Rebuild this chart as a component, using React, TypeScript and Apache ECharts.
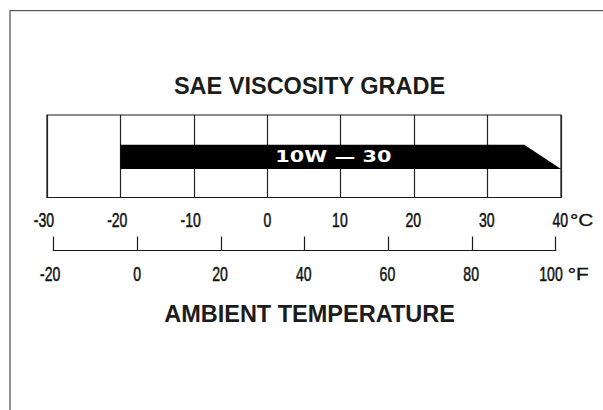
import React, { useEffect, useRef } from "react";
import * as echarts from "echarts";

// ---- data ----
const celsiusRange = [-30, 40];
const celsiusStep = 10;
const celsiusTicks = [-30, -20, -10, 0, 10, 20, 30, 40];
const fahrenheitRange = [-20, 100];
const fahrenheitStep = 20;
const fahrenheitTicks = [-20, 0, 20, 40, 60, 80, 100];

const grades = ["10W — 30"];
const gradeStartC = [-20];
const gradeTaperC = [35];
const gradeEndC = [40];
const gradeLabelC = [9];

const titleTop = "SAE VISCOSITY GRADE";
const titleBottom = "AMBIENT TEMPERATURE";
const unitC = "°C";
const unitF = "°F";

const BAR_TOP = 0.64;
const BAR_BOTTOM = 0.345;

const SANS = "'Liberation Sans', Arial, sans-serif";
const TICK_FONT = 19.5;
const TICK_SCALE = 0.72;

export default function App() {
  const ref = useRef<HTMLDivElement>(null);

  useEffect(() => {
    if (!ref.current) return;
    const chart = echarts.init(ref.current, null, { renderer: "svg" });

    const baseGraphic: any[] = [
      {
        type: "line",
        shape: { x1: 10, y1: 10.5, x2: 10, y2: 410 },
        style: { stroke: "#7a7a7a", lineWidth: 1.6 },
        silent: true,
      },
      {
        type: "line",
        shape: { x1: 10, y1: 10.7, x2: 603, y2: 10.7 },
        style: { stroke: "#333", lineWidth: 1 },
        silent: true,
      },
      {
        type: "text",
        x: 309.5,
        y: 85.5,
        style: {
          text: titleTop,
          fill: "#1c1c1c",
          font: `bold 23.5px ${SANS}`,
          align: "center",
          verticalAlign: "middle",
        },
      },
      {
        type: "text",
        x: 309.5,
        y: 314.4,
        style: {
          text: titleBottom,
          fill: "#1c1c1c",
          font: `bold 23.5px ${SANS}`,
          align: "center",
          verticalAlign: "middle",
        },
      },
    ];

    const option: any = {
      animation: false,
      backgroundColor: "#ffffff",
      grid: [
        {
          left: 47,
          top: 115,
          width: 514,
          height: 82.5,
          show: true,
          borderColor: "#1a1a1a",
          borderWidth: 1.2,
          backgroundColor: "transparent",
        },
        {
          left: 53.3,
          top: 249.5,
          width: 502.4,
          height: 1,
          show: false,
        },
      ],
      xAxis: [
        {
          type: "value",
          gridIndex: 0,
          min: celsiusRange[0],
          max: celsiusRange[1],
          interval: celsiusStep,
          axisLine: { show: true, lineStyle: { color: "#1a1a1a", width: 1.2 } },
          axisTick: { show: false },
          splitLine: { show: true, lineStyle: { color: "#222", width: 1.2 } },
          axisLabel: { show: false },
        },
        {
          type: "value",
          gridIndex: 1,
          min: fahrenheitRange[0],
          max: fahrenheitRange[1],
          interval: fahrenheitStep,
          axisLine: { show: true, lineStyle: { color: "#1a1a1a", width: 1.2 } },
          axisTick: {
            show: true,
            inside: true,
            length: 14,
            lineStyle: { color: "#1a1a1a", width: 1.2 },
          },
          splitLine: { show: false },
          axisLabel: { show: false },
        },
      ],
      yAxis: [
        { type: "value", gridIndex: 0, min: 0, max: 1, show: false },
        { type: "value", gridIndex: 1, min: 0, max: 1, show: false },
      ],
      graphic: baseGraphic,
      series: [
        {
          type: "custom",
          xAxisIndex: 0,
          yAxisIndex: 0,
          encode: { x: [0, 1, 2] },
          data: grades.map((g, i) => [
            gradeStartC[i],
            gradeTaperC[i],
            gradeEndC[i],
            gradeLabelC[i],
          ]),
          renderItem: (params: any, api: any) => {
            const x0 = api.value(0);
            const x1 = api.value(1);
            const x2 = api.value(2);
            const xl = api.value(3);
            const a = api.coord([x0, BAR_TOP]);
            const b = api.coord([x1, BAR_TOP]);
            const c = api.coord([x2, BAR_BOTTOM]);
            const d = api.coord([x0, BAR_BOTTOM]);
            const lp = api.coord([xl, (BAR_TOP + BAR_BOTTOM) / 2]);
            return {
              type: "group",
              children: [
                {
                  type: "polygon",
                  shape: { points: [a, b, c, d] },
                  style: { fill: "#000" },
                },
                {
                  type: "text",
                  x: lp[0],
                  y: lp[1],
                  scaleX: 1.3,
                  style: {
                    text: grades[params.dataIndex],
                    x: 0,
                    y: 0,
                    fill: "#fff",
                    font: `bold 16px 'DejaVu Sans', ${SANS}`,
                    align: "center",
                    verticalAlign: "middle",
                  },
                },
              ],
            };
          },
        },
      ],
    };

    chart.setOption(option);

    // tick labels drawn as condensed text at positions from the axes' scales
    const digitHalf = (v: number) => {
      const digits = String(Math.abs(v)).length;
      return Math.min((digits * 0.556 * TICK_FONT * TICK_SCALE) / 2, 7);
    };
    const makeLabel = (px: number, py: number, v: number) => ({
      type: "text",
      x: px + digitHalf(v),
      y: py,
      scaleX: TICK_SCALE,
      silent: true,
      style: {
        text: String(v),
        fill: "#111",
        stroke: "#111",
        lineWidth: 0.5,
        font: `${TICK_FONT}px ${SANS}`,
        align: "right",
        verticalAlign: "middle",
      },
    });

    const labels: any[] = [];
    const cBottom = chart.convertToPixel({ gridIndex: 0 } as any, [celsiusRange[0], 0]) as number[];
    celsiusTicks.forEach((v) => {
      const px = chart.convertToPixel({ xAxisIndex: 0 } as any, v) as number;
      labels.push(makeLabel(px, cBottom[1] + 23.5, v));
    });
    const fAxis = chart.convertToPixel({ gridIndex: 1 } as any, [fahrenheitRange[0], 0]) as number[];
    fahrenheitTicks.forEach((v) => {
      const px = chart.convertToPixel({ xAxisIndex: 1 } as any, v) as number;
      labels.push(makeLabel(px, fAxis[1] + 24.5, v));
    });

    const cEnd = chart.convertToPixel({ xAxisIndex: 0 } as any, celsiusRange[1]) as number;
    const fEnd = chart.convertToPixel({ xAxisIndex: 1 } as any, fahrenheitRange[1]) as number;
    labels.push({
      type: "text",
      x: cEnd + 9,
      y: cBottom[1] + 22.5,
      scaleX: 1.3,
      silent: true,
      style: {
        text: unitC,
        fill: "#111",
        stroke: "#111",
        lineWidth: 0.3,
        font: `16px ${SANS}`,
        align: "left",
        verticalAlign: "middle",
      },
    });
    labels.push({
      type: "text",
      x: fEnd + 12,
      y: fAxis[1] + 24,
      scaleX: 1.3,
      silent: true,
      style: {
        text: unitF,
        fill: "#111",
        stroke: "#111",
        lineWidth: 0.3,
        font: `16px ${SANS}`,
        align: "left",
        verticalAlign: "middle",
      },
    });

    chart.setOption({ graphic: [...baseGraphic, ...labels] });

    return () => chart.dispose();
  }, []);

  return (
    <div
      ref={ref}
      style={{ position: "fixed", left: 0, top: 0, width: 603, height: 410 }}
    />
  );
}
